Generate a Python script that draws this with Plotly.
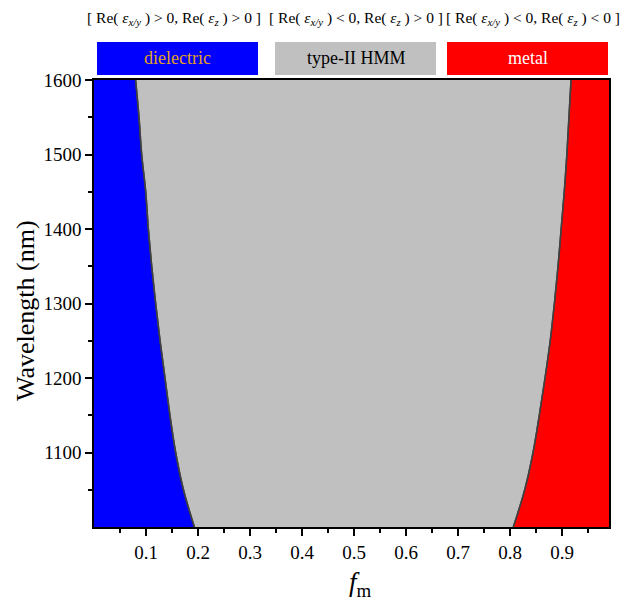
import plotly.graph_objects as go

# Data
wavelength = [1000, 1050, 1100, 1150, 1200, 1250, 1300, 1350, 1400, 1450, 1500, 1550, 1600]
f_dielectric_edge = [0.193, 0.172, 0.157, 0.146, 0.1365, 0.127, 0.1186, 0.111, 0.1045, 0.0994, 0.0917, 0.0865, 0.080]
f_metal_edge = [0.806, 0.828, 0.844, 0.856, 0.867, 0.877, 0.885, 0.892, 0.898, 0.904, 0.909, 0.913, 0.917]

x_range = [0.0, 0.99]
y_range = [1000, 1600]
x_ticks = [0.1, 0.2, 0.3, 0.4, 0.5, 0.6, 0.7, 0.8, 0.9]
x_minor = [0.05, 0.15, 0.25, 0.35, 0.45, 0.55, 0.65, 0.75, 0.85, 0.95]
y_ticks = [1100, 1200, 1300, 1400, 1500, 1600]
y_minor = [1050, 1150, 1250, 1350, 1450, 1550]

region_names = ["dielectric", "type-II HMM", "metal"]
region_colors = ["#0000FF", "#C0C0C0", "#FF0000"]
region_text_colors = ["#E0A020", "#000000", "#FFFFFF"]
region_conditions = [
    "[ Re( <i>ε</i><sub><i>x/y</i></sub> ) > 0, Re( <i>ε</i><sub><i>z</i></sub> ) > 0 ]",
    "[ Re( <i>ε</i><sub><i>x/y</i></sub> ) < 0, Re( <i>ε</i><sub><i>z</i></sub> ) > 0 ]",
    "[ Re( <i>ε</i><sub><i>x/y</i></sub> ) < 0, Re( <i>ε</i><sub><i>z</i></sub> ) < 0 ]",
]

FONT = "Liberation Serif"
line_col = "#404040"

fig = go.Figure()
# dielectric: from x=0 to left boundary
fig.add_trace(go.Scatter(x=f_dielectric_edge, y=wavelength, mode="lines",
                         line=dict(color=line_col, width=1.5, shape="spline"),
                         fill="tozerox", fillcolor=region_colors[0], showlegend=False))
# HMM: between the two boundaries
fig.add_trace(go.Scatter(x=f_metal_edge, y=wavelength, mode="lines",
                         line=dict(color=line_col, width=1.5, shape="spline"),
                         fill="tonextx", fillcolor=region_colors[1], showlegend=False))
# metal: from right boundary to axis end
fig.add_trace(go.Scatter(x=[x_range[1]] * len(wavelength), y=wavelength, mode="lines",
                         line=dict(color=region_colors[2], width=0),
                         fill="tonextx", fillcolor=region_colors[2], showlegend=False))
# redraw boundaries on top
for fx in (f_dielectric_edge, f_metal_edge):
    fig.add_trace(go.Scatter(x=fx, y=wavelength, mode="lines",
                             line=dict(color=line_col, width=1.5, shape="spline"),
                             showlegend=False))

# top region boxes and labels
L, R, T, B = 94, 14, 80, 77
W, H = 623, 604
pw, ph = W - L - R, H - T - B

def px2x(px):
    return (px - L) / pw

def py2y(py):
    return (H - B - py) / ph

box_x = [(97, 258), (275, 436), (447, 608)]
cond_cx = [174, 356, 533]
for i in range(3):
    x0, x1 = box_x[i]
    fig.add_shape(type="rect", xref="paper", yref="paper",
                  x0=px2x(x0), x1=px2x(x1), y0=py2y(75), y1=py2y(42),
                  fillcolor=region_colors[i], line=dict(width=0), layer="above")
    fig.add_annotation(xref="paper", yref="paper", x=px2x((x0 + x1) / 2), y=py2y(58.5),
                       xanchor="center", yanchor="middle",
                       text=region_names[i], showarrow=False,
                       font=dict(family=FONT, size=18, color=region_text_colors[i]))
    fig.add_annotation(xref="paper", yref="paper", x=px2x(cond_cx[i]), y=py2y(19),
                       xanchor="center", yanchor="middle",
                       text=region_conditions[i], showarrow=False,
                       font=dict(family=FONT, size=15.5, color="black"))

# axis titles placed as text
fig.add_annotation(xref="paper", yref="paper", x=px2x(360), y=py2y(584),
                   xanchor="center", yanchor="middle", showarrow=False,
                   text="<i>f</i><sub>m</sub>", font=dict(family=FONT, size=27, color="black"))
fig.add_annotation(xref="paper", yref="paper", x=px2x(25), y=py2y(311),
                   xanchor="center", yanchor="middle", showarrow=False, textangle=-90,
                   text="Wavelength (nm)", font=dict(family=FONT, size=26, color="black"))

axis_common = dict(showgrid=False, zeroline=False, showline=True, linecolor="black",
                   linewidth=1.5, mirror=True, ticks="outside", tickcolor="black",
                   tickwidth=1.5, tickfont=dict(family=FONT, size=19, color="black"))

fig.update_xaxes(range=x_range, tickmode="array", tickvals=x_ticks,
                 ticktext=[str(v) for v in x_ticks], ticklen=7,
                 minor=dict(tickmode="array", tickvals=x_minor, ticks="outside",
                            ticklen=4, tickcolor="black", tickwidth=1.5),
                 **axis_common)
fig.update_yaxes(range=y_range, tickmode="array", tickvals=y_ticks, ticklen=7,
                 minor=dict(tickmode="array", tickvals=y_minor, ticks="outside",
                            ticklen=4, tickcolor="black", tickwidth=1.5),
                 **axis_common)

fig.update_layout(width=W, height=H, margin=dict(l=L, r=R, t=T, b=B),
                  paper_bgcolor="white", plot_bgcolor="white",
                  font=dict(family=FONT, color="black"), showlegend=False)

fig.write_html("out.html")
